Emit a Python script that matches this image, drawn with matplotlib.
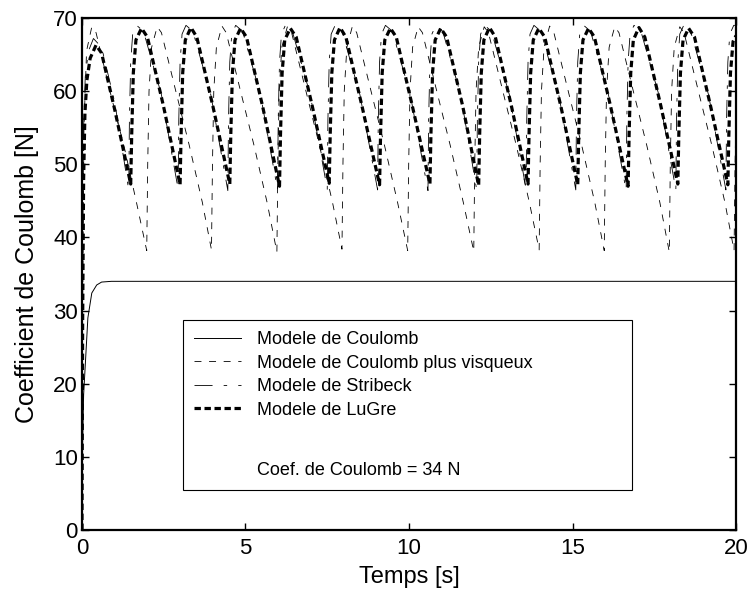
from __future__ import annotations

import matplotlib

matplotlib.use("Agg")
import matplotlib.pyplot as plt
from matplotlib.lines import Line2D

OUTPUT_PNG = "out.png"

# Modele de Coulomb: first-order rise to the Coulomb level
COULOMB_T = [0.0, 0.02, 0.05, 0.10, 0.18, 0.30, 0.45, 0.60, 0.90, 1.20, 20.0]
COULOMB_F = [0.0, 12.0, 18.5, 22.5, 29.0, 32.4, 33.5, 33.9, 34.0, 34.0, 34.0]

# Modele de Coulomb plus visqueux: stick-slip, slow fall then abrupt rise
VISQUEUX_T = [
    0.00, 0.02, 0.06, 0.14, 0.30, 0.43, 0.90, 1.30, 1.68,
    1.98, 2.01, 2.05, 2.13, 2.30, 2.43, 2.88, 3.28, 3.68,
    3.96, 3.99, 4.03, 4.11, 4.28, 4.41, 4.86, 5.26, 5.66,
    5.96, 5.99, 6.03, 6.11, 6.28, 6.41, 6.86, 7.26, 7.66,
    7.95, 7.98, 8.02, 8.10, 8.27, 8.40, 8.85, 9.25, 9.65,
    9.96, 9.99, 10.03, 10.11, 10.28, 10.41, 10.86, 11.26, 11.66,
    11.98, 12.01, 12.05, 12.13, 12.30, 12.43, 12.88, 13.28, 13.68,
    13.98, 14.01, 14.05, 14.13, 14.30, 14.43, 14.88, 15.28, 15.68,
    15.97, 16.00, 16.04, 16.12, 16.29, 16.42, 16.87, 17.27, 17.67,
    17.96, 17.99, 18.03, 18.11, 18.28, 18.41, 18.86, 19.26, 19.66,
    19.94, 19.97, 20.00,
]
VISQUEUX_F = [
    0.0, 30.0, 55.0, 65.5, 68.8, 68.0, 59.2, 52.2, 44.5,
    38.2, 50.0, 60.0, 66.0, 68.8, 68.0, 59.8, 52.6, 44.8,
    38.3, 50.0, 60.0, 66.0, 68.9, 68.0, 59.8, 52.6, 44.8,
    38.0, 50.0, 60.0, 66.0, 68.8, 68.0, 59.8, 52.6, 44.8,
    38.4, 50.0, 60.0, 66.0, 68.9, 68.0, 59.8, 52.6, 44.8,
    38.2, 50.0, 60.0, 66.0, 68.8, 68.0, 59.8, 52.6, 44.8,
    38.1, 50.0, 60.0, 66.0, 68.8, 68.0, 59.8, 52.6, 44.8,
    38.3, 50.0, 60.0, 66.0, 68.9, 68.0, 59.8, 52.6, 44.8,
    38.2, 50.0, 60.0, 66.0, 68.8, 68.0, 59.8, 52.6, 44.8,
    38.0, 50.0, 60.0, 66.0, 68.8, 68.0, 59.8, 52.6, 44.8,
    38.2, 50.0, 57.0,
]

# Modele de Stribeck: oscillation close to LuGre, slightly ahead in phase
STRIBECK_T = [
    0.00, 0.02, 0.05, 0.10, 0.20, 0.35, 0.60, 1.00,
    1.43, 1.45, 1.49, 1.55, 1.67, 1.88, 2.43,
    2.94, 2.96, 3.00, 3.06, 3.18, 3.39, 3.94,
    4.46, 4.48, 4.52, 4.58, 4.70, 4.91, 5.46,
    5.98, 6.00, 6.04, 6.10, 6.22, 6.43, 6.98,
    7.50, 7.52, 7.56, 7.62, 7.74, 7.95, 8.50,
    9.04, 9.06, 9.10, 9.16, 9.28, 9.49, 10.04,
    10.58, 10.60, 10.64, 10.70, 10.82, 11.03, 11.58,
    12.07, 12.09, 12.13, 12.19, 12.31, 12.52, 13.07,
    13.58, 13.60, 13.64, 13.70, 13.82, 14.03, 14.58,
    15.10, 15.12, 15.16, 15.22, 15.34, 15.55, 16.10,
    16.64, 16.66, 16.70, 16.76, 16.88, 17.09, 17.64,
    18.16, 18.18, 18.22, 18.28, 18.40, 18.61, 19.16,
    19.69, 19.71, 19.75, 19.81, 19.93, 20.00,
]
STRIBECK_F = [
    0.0, 35.0, 55.0, 62.0, 65.5, 67.2, 66.0, 58.5,
    46.5, 56.0, 64.0, 67.8, 69.0, 68.2, 59.5,
    46.6, 56.0, 64.0, 67.8, 69.0, 68.2, 59.5,
    46.4, 56.0, 64.0, 67.8, 69.0, 68.2, 59.5,
    46.5, 56.0, 64.0, 67.8, 69.0, 68.2, 59.5,
    46.6, 56.0, 64.0, 67.8, 69.0, 68.2, 59.5,
    46.5, 56.0, 64.0, 67.8, 69.0, 68.2, 59.5,
    46.4, 56.0, 64.0, 67.8, 69.0, 68.2, 59.5,
    46.5, 56.0, 64.0, 67.8, 69.0, 68.2, 59.5,
    46.6, 56.0, 64.0, 67.8, 69.0, 68.2, 59.5,
    46.5, 56.0, 64.0, 67.8, 69.0, 68.2, 59.5,
    46.4, 56.0, 64.0, 67.8, 69.0, 68.2, 59.5,
    46.5, 56.0, 64.0, 67.8, 69.0, 68.2, 59.5,
    46.5, 56.0, 64.0, 67.8, 69.0, 69.0,
]

# Modele de LuGre: sawtooth between ~47 N and ~68.6 N
LUGRE_T = [
    0.00, 0.02, 0.05, 0.09, 0.15, 0.25, 0.43, 0.60, 1.00,
    1.49, 1.52, 1.57, 1.65, 1.82, 2.00, 2.49,
    3.00, 3.03, 3.08, 3.16, 3.33, 3.51, 4.00,
    4.52, 4.55, 4.60, 4.68, 4.85, 5.03, 5.52,
    6.04, 6.07, 6.12, 6.20, 6.37, 6.55, 7.04,
    7.56, 7.59, 7.64, 7.72, 7.89, 8.07, 8.56,
    9.10, 9.13, 9.18, 9.26, 9.43, 9.61, 10.10,
    10.64, 10.67, 10.72, 10.80, 10.97, 11.15, 11.64,
    12.13, 12.16, 12.21, 12.29, 12.46, 12.64, 13.13,
    13.64, 13.67, 13.72, 13.80, 13.97, 14.15, 14.64,
    15.16, 15.19, 15.24, 15.32, 15.49, 15.67, 16.16,
    16.70, 16.73, 16.78, 16.86, 17.03, 17.21, 17.70,
    18.22, 18.25, 18.30, 18.38, 18.55, 18.73, 19.22,
    19.75, 19.78, 19.83, 19.91, 20.00,
]
LUGRE_F = [
    0.0, 28.0, 48.0, 57.0, 61.5, 64.5, 66.3, 65.2, 57.5,
    47.3, 54.0, 62.5, 67.0, 68.6, 67.4, 58.0,
    47.2, 54.0, 62.5, 67.0, 68.7, 67.4, 58.0,
    47.3, 54.0, 62.5, 67.0, 68.6, 67.4, 58.0,
    47.0, 54.0, 62.5, 67.0, 68.6, 67.4, 58.0,
    47.4, 54.0, 62.5, 67.0, 68.7, 67.4, 58.0,
    47.2, 54.0, 62.5, 67.0, 68.6, 67.4, 58.0,
    47.3, 54.0, 62.5, 67.0, 68.6, 67.4, 58.0,
    47.1, 54.0, 62.5, 67.0, 68.7, 67.4, 58.0,
    47.3, 54.0, 62.5, 67.0, 68.6, 67.4, 58.0,
    47.2, 54.0, 62.5, 67.0, 68.6, 67.4, 58.0,
    47.0, 54.0, 62.5, 67.0, 68.7, 67.4, 58.0,
    47.3, 54.0, 62.5, 67.0, 68.6, 67.4, 58.0,
    47.2, 54.0, 62.5, 66.8, 67.6,
]

LEGEND_LABELS = [
    "Modele de Coulomb",
    "Modele de Coulomb plus visqueux",
    "Modele de Stribeck",
    "Modele de LuGre",
]
COULOMB_NOTE = "Coef. de Coulomb = 34 N"

X_TICKS = [0, 5, 10, 15, 20]
Y_TICKS = [0, 10, 20, 30, 40, 50, 60, 70]


def main() -> None:
    plt.rcParams["font.family"] = ["Liberation Sans", "DejaVu Sans"]
    plt.rcParams["lines.scale_dashes"] = False

    fig = plt.figure(figsize=(7.48, 5.91), dpi=100)
    axis = fig.add_axes([0.1096, 0.1032, 0.8744, 0.8663])

    styles = [
        dict(color="black", linewidth=0.7, linestyle="-"),
        dict(color="black", linewidth=0.6, dashes=(5.0, 5.5)),
        dict(color="black", linewidth=0.6, dashes=(13.0, 8.0, 2.5, 8.0)),
        dict(color="black", linewidth=2.3, dashes=(4.6, 2.6)),
    ]
    series = [
        (COULOMB_T, COULOMB_F),
        (VISQUEUX_T, VISQUEUX_F),
        (STRIBECK_T, STRIBECK_F),
        (LUGRE_T, LUGRE_F),
    ]
    handles = []
    for (times, forces), style, label in zip(series, styles, LEGEND_LABELS):
        (line,) = axis.plot(times, forces, label=label, **style)
        handles.append(line)

    axis.set_xlim(0, 20)
    axis.set_ylim(0, 70)
    axis.set_xticks(X_TICKS)
    axis.set_yticks(Y_TICKS)
    axis.tick_params(direction="in", length=5, width=1.0, labelsize=16,
                     top=True, right=True)
    axis.tick_params(axis="x", pad=6)
    axis.tick_params(axis="y", pad=3)
    for spine in axis.spines.values():
        spine.set_linewidth(1.6)
    axis.set_xlabel("Temps [s]", fontsize=17, labelpad=5)
    axis.set_ylabel("Coefficient de Coulomb [N]", fontsize=18, labelpad=10)

    # blank row and the note sit inside the legend box
    blank = Line2D([], [], linestyle="none")
    note = Line2D([], [], linestyle="none")
    legend = axis.legend(
        handles + [blank, note],
        LEGEND_LABELS + [" ", COULOMB_NOTE],
        loc="upper left",
        bbox_to_anchor=(0.1545, 0.076, 0.6865, 0.334),
        mode="expand",
        fontsize=13,
        handlelength=2.6,
        handletextpad=0.85,
        labelspacing=0.36,
        borderpad=0.62,
        borderaxespad=0.0,
        fancybox=False,
        framealpha=1.0,
        edgecolor="black",
    )
    # taller spacer row before the note
    legend.get_texts()[4].set_fontsize(22)
    legend.get_frame().set_linewidth(0.8)

    fig.savefig(OUTPUT_PNG, dpi=100)
    plt.close(fig)


if __name__ == "__main__":
    main()
